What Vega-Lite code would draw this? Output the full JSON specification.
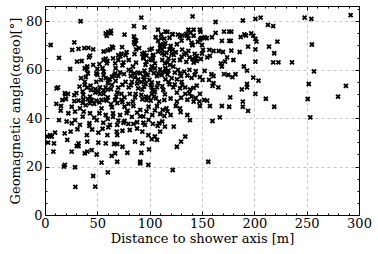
{
"$schema":"https://vega.github.io/schema/vega-lite/v6.json",
"width":314,"height":209,"autosize":"none",
"padding":{"left":45,"top":6,"right":19,"bottom":39},
"background":"white",
"config":{"view":{"stroke":"black","strokeWidth":1},"font":"DejaVu Serif",
 "axis":{"domainColor":"black","tickColor":"black","labelColor":"black","titleColor":"black","labelFontSize":13,"titleFontSize":13,"titleFontWeight":"normal","labelFlush":false,"labelOverlap":false,"labelBound":false,"gridDash":[3,3],"gridColor":"#c8c8c8","tickWidth":1}},
"data":{"values":[
{"d":34,"a":80},{"d":92,"a":81.5},{"d":141,"a":82},{"d":248,"a":81.5},{"d":254.5,"a":81},{"d":292,"a":82.5},{"d":206,"a":81.5},{"d":201,"a":81},{"d":189,"a":80.3},{"d":163,"a":79.7},
{"d":85,"a":78},{"d":95,"a":77.5},{"d":213,"a":78.5},{"d":218,"a":78},{"d":108,"a":76.5},{"d":117,"a":75.6},{"d":137,"a":76.5},{"d":148,"a":76.5},{"d":148.5,"a":75.6},{"d":142,"a":76.5},
{"d":171,"a":75.7},{"d":176,"a":75.7},{"d":178,"a":75.7},{"d":60.5,"a":75.5},{"d":58,"a":75},{"d":63,"a":76},{"d":59,"a":74},{"d":63,"a":75},{"d":76,"a":74.5},{"d":111,"a":74.6},
{"d":122,"a":74.6},{"d":135.5,"a":74},{"d":129,"a":73.7},{"d":152.5,"a":73.4},{"d":154.5,"a":73},{"d":149,"a":73},{"d":159.5,"a":73.4},{"d":190.5,"a":74.6},{"d":192,"a":74.1},{"d":187,"a":73.5},
{"d":197,"a":75},{"d":199,"a":74},{"d":222,"a":71.6},{"d":28,"a":71.3},{"d":85,"a":73.7},{"d":86,"a":72.3},{"d":85,"a":71.3},{"d":130.5,"a":72},{"d":108,"a":71.9},{"d":140,"a":71.2},
{"d":169,"a":71.9},{"d":176,"a":71.9},{"d":177.5,"a":71.9},{"d":201,"a":72.7},{"d":202,"a":71.6},{"d":255,"a":70.4},{"d":5.4,"a":70.2},{"d":32,"a":68.6},{"d":26,"a":68.2},{"d":37.6,"a":68.9},
{"d":41.4,"a":69},{"d":46,"a":68.4},{"d":62,"a":68.4},{"d":64,"a":69.5},{"d":73.6,"a":69.3},{"d":87,"a":68.4},{"d":102,"a":68.7},{"d":100,"a":68.2},{"d":112,"a":68.2},{"d":114,"a":69.5},
{"d":110,"a":70.2},{"d":112,"a":66.8},{"d":114,"a":66.1},{"d":115,"a":71},{"d":119,"a":68.4},{"d":122,"a":68.2},{"d":150,"a":70.2},{"d":151,"a":68.2},{"d":141,"a":70.2},{"d":157,"a":68.2},
{"d":161,"a":67.7},{"d":166,"a":67.7},{"d":170,"a":67.3},{"d":178,"a":67.9},{"d":186,"a":67.3},{"d":194,"a":69.5},{"d":214,"a":69.5},{"d":201,"a":68.4},{"d":219,"a":66.8},{"d":163,"a":75.2},
{"d":73,"a":66.6},{"d":78,"a":67.2},{"d":70,"a":66},{"d":85.5,"a":66.4},{"d":93,"a":66.5},{"d":97,"a":65.8},{"d":94,"a":64.7},{"d":103.5,"a":66.1},{"d":103,"a":64.7},{"d":123,"a":66.1},
{"d":130.5,"a":65.4},{"d":135,"a":66.8},{"d":138,"a":65.1},{"d":145,"a":65.7},{"d":155,"a":65.1},{"d":157.5,"a":65.7},{"d":13.4,"a":64.9},{"d":42,"a":65.1},{"d":43,"a":65.8},{"d":65,"a":64.7},
{"d":80,"a":64},{"d":102.5,"a":64},{"d":112,"a":64},{"d":129,"a":64},{"d":149,"a":64.4},{"d":144,"a":64.7},{"d":174,"a":65.1},{"d":180,"a":64},{"d":172,"a":63.3},{"d":30.6,"a":63.3},
{"d":35,"a":63.6},{"d":59.6,"a":63.6},{"d":59,"a":62.6},{"d":67,"a":62.6},{"d":87,"a":62.9},{"d":97,"a":63.3},{"d":105,"a":62.6},{"d":96,"a":62},{"d":114.6,"a":62.6},{"d":119.4,"a":62},
{"d":142,"a":62.9},{"d":168,"a":62.6},{"d":169,"a":61.3},{"d":218,"a":63},{"d":223,"a":63},{"d":236,"a":63},{"d":201,"a":63.3},{"d":190,"a":61.3},{"d":24,"a":60.3},{"d":38,"a":60.6},
{"d":50,"a":60.3},{"d":55,"a":60.6},{"d":56,"a":59.2},{"d":67.5,"a":60.6},{"d":84,"a":61.3},{"d":80,"a":59.9},{"d":102,"a":61.3},{"d":105,"a":60.6},{"d":115,"a":60.6},{"d":122.6,"a":61.3},
{"d":138,"a":59.9},{"d":152.5,"a":59.5},{"d":193,"a":59.6},{"d":257,"a":59.3},{"d":40,"a":59.9},{"d":41,"a":58.5},{"d":49,"a":58.5},{"d":67,"a":58.5},{"d":64,"a":57.1},{"d":75.5,"a":58.2},
{"d":71.7,"a":58.9},{"d":82,"a":57.4},{"d":85.4,"a":58.5},{"d":91,"a":58.5},{"d":96,"a":58.1},{"d":94,"a":57.1},{"d":108,"a":58.5},{"d":107,"a":57.4},{"d":115,"a":59.2},{"d":111.5,"a":57.8},
{"d":117,"a":58},{"d":124,"a":58.8},{"d":129,"a":58.5},{"d":133,"a":59.2},{"d":143,"a":57.8},{"d":161,"a":57.4},{"d":159,"a":58.1},{"d":171,"a":58.2},{"d":175,"a":57.8},{"d":182,"a":58.1},
{"d":199,"a":56.7},{"d":204,"a":55.5},{"d":34.4,"a":56.5},{"d":38,"a":55},{"d":49,"a":55},{"d":53.5,"a":55.8},{"d":58,"a":56.5},{"d":60.5,"a":55.8},{"d":67.5,"a":55.4},{"d":77,"a":55},
{"d":83,"a":55},{"d":89,"a":56},{"d":92,"a":55},{"d":95,"a":55.8},{"d":99.7,"a":55.8},{"d":102,"a":54.7},{"d":115,"a":56},{"d":118,"a":55},{"d":126,"a":56},{"d":130.5,"a":55},
{"d":148,"a":56.9},{"d":150.5,"a":55.8},{"d":156.7,"a":55.8},{"d":161,"a":54.4},{"d":179,"a":56.9},{"d":193,"a":54.1},{"d":252,"a":54.1},{"d":287.5,"a":53.3},{"d":12.4,"a":52.7},{"d":11,"a":52.3},
{"d":33,"a":53},{"d":40,"a":52.6},{"d":43.6,"a":53.4},{"d":52.5,"a":52.7},{"d":58,"a":52.7},{"d":64,"a":53.7},{"d":70,"a":52.6},{"d":80,"a":52.7},{"d":89,"a":52.3},{"d":94.6,"a":53},
{"d":102,"a":52.7},{"d":103,"a":51.6},{"d":107,"a":52.7},{"d":113,"a":51.6},{"d":122.6,"a":52.7},{"d":129,"a":52.3},{"d":134,"a":52.7},{"d":138.5,"a":51.9},{"d":160,"a":53.3},{"d":165.6,"a":52.7},
{"d":188,"a":51.9},{"d":193,"a":52.7},{"d":19.4,"a":49.8},{"d":22,"a":50},{"d":30,"a":50.3},{"d":36.6,"a":49.6},{"d":43,"a":48.9},{"d":48,"a":50.5},{"d":52.5,"a":50},{"d":56,"a":50},
{"d":60,"a":48.6},{"d":68,"a":48.9},{"d":73,"a":50},{"d":76,"a":48.6},{"d":81,"a":50},{"d":86.6,"a":50},{"d":92,"a":49.6},{"d":96.5,"a":48.9},{"d":102,"a":50},{"d":104,"a":48.9},
{"d":114.6,"a":49.8},{"d":126,"a":50.5},{"d":134,"a":50},{"d":140,"a":48.9},{"d":148,"a":50},{"d":177,"a":48.6},{"d":201,"a":50},{"d":280,"a":48.9},{"d":16.6,"a":47.5},{"d":20,"a":47.9},
{"d":32,"a":47.2},{"d":36.6,"a":47.8},{"d":44.6,"a":47.5},{"d":49,"a":47.2},{"d":54,"a":47.5},{"d":59,"a":47.2},{"d":67,"a":47.5},{"d":73,"a":47.5},{"d":84,"a":46.8},{"d":97,"a":47.5},
{"d":101,"a":47.2},{"d":109,"a":46.8},{"d":114,"a":47.5},{"d":126,"a":46.8},{"d":142,"a":46.8},{"d":147.5,"a":46.8},{"d":152,"a":47.5},{"d":155,"a":47.2},{"d":189,"a":46.8},{"d":251,"a":47.9},
{"d":211,"a":48},{"d":10.8,"a":45.9},{"d":15.3,"a":45},{"d":25.5,"a":44.7},{"d":33.4,"a":44},{"d":39,"a":45.4},{"d":43,"a":46.1},{"d":47,"a":45.9},{"d":54,"a":44},{"d":64,"a":44.5},
{"d":76,"a":44.7},{"d":79.6,"a":45.9},{"d":84.4,"a":45},{"d":91,"a":43.4},{"d":99,"a":44.7},{"d":107,"a":45},{"d":112.4,"a":43.4},{"d":116,"a":44},{"d":125,"a":45},{"d":129,"a":44},
{"d":148,"a":45},{"d":157.6,"a":45},{"d":169,"a":45},{"d":176,"a":44.7},{"d":189,"a":44.7},{"d":219,"a":44.7},{"d":15,"a":43.1},{"d":22.3,"a":42},{"d":28.7,"a":42.7},{"d":37,"a":42.7},
{"d":43,"a":42},{"d":52,"a":42},{"d":58,"a":41.3},{"d":65,"a":42},{"d":71.7,"a":41.3},{"d":79,"a":43.1},{"d":88,"a":42.3},{"d":91,"a":40.7},{"d":94,"a":40.7},{"d":102.5,"a":41.3},
{"d":110,"a":41.7},{"d":114,"a":40.9},{"d":120,"a":41.3},{"d":129.6,"a":42.5},{"d":136,"a":41.3},{"d":167,"a":40.3},{"d":194,"a":43},{"d":138.5,"a":39.2},{"d":160,"a":38.8},{"d":253.5,"a":40.3},
{"d":13.4,"a":39.2},{"d":20.7,"a":38.6},{"d":28.7,"a":39.2},{"d":25.5,"a":37.9},{"d":33.4,"a":37.2},{"d":42.4,"a":37.9},{"d":42.4,"a":36.8},{"d":49.4,"a":39.2},{"d":55.7,"a":38.1},{"d":62,"a":37.2},
{"d":60.5,"a":36.2},{"d":69,"a":37.2},{"d":75,"a":38.1},{"d":79.6,"a":37.6},{"d":84.4,"a":37.6},{"d":94,"a":38.1},{"d":95.5,"a":37.2},{"d":103,"a":37.6},{"d":107.6,"a":36.8},{"d":109,"a":37.9},
{"d":114.6,"a":36.5},{"d":123,"a":36.5},{"d":4.8,"a":33},{"d":2.2,"a":32.4},{"d":6.4,"a":32.4},{"d":9.6,"a":34},{"d":18.8,"a":33.7},{"d":24.5,"a":34.4},{"d":31,"a":35.4},{"d":40,"a":33},
{"d":51,"a":34},{"d":59.6,"a":33},{"d":68.5,"a":34.4},{"d":69,"a":33},{"d":81,"a":35.1},{"d":93,"a":34.4},{"d":98.7,"a":33},{"d":110,"a":34.4},{"d":105,"a":32.4},{"d":134,"a":32.4},
{"d":130,"a":30.3},{"d":126,"a":28.2},{"d":2.9,"a":29.9},{"d":8.6,"a":29.6},{"d":21.3,"a":31},{"d":32,"a":29.6},{"d":40.4,"a":30.3},{"d":51,"a":29.9},{"d":58,"a":29.6},{"d":66,"a":29.3},
{"d":69,"a":29.3},{"d":74,"a":28.2},{"d":86,"a":30.3},{"d":93,"a":29.6},{"d":102,"a":31.3},{"d":107,"a":31},{"d":32,"a":28.5},{"d":30.3,"a":28.5},{"d":40.4,"a":26.2},{"d":38,"a":25.5},
{"d":44.6,"a":26.8},{"d":25.5,"a":26.2},{"d":8,"a":26.2},{"d":49.4,"a":25},{"d":63.7,"a":24.4},{"d":67,"a":25.5},{"d":78.7,"a":25.7},{"d":92,"a":25.7},{"d":99.4,"a":27.1},{"d":69,"a":22},
{"d":54,"a":21.6},{"d":91,"a":22},{"d":91,"a":21.3},{"d":98.7,"a":20.7},{"d":156,"a":22},{"d":122,"a":18.6},{"d":18,"a":20},{"d":19,"a":20.7},{"d":28.7,"a":19.7},{"d":60,"a":17.6},
{"d":46,"a":16.1},{"d":29,"a":11.6},{"d":48,"a":11.7},
{"d":56,"a":67.5},{"d":60,"a":68},{"d":65,"a":69},{"d":70,"a":64},{"d":72,"a":65.5},{"d":75,"a":63},{"d":74,"a":61.8},{"d":77,"a":66},{"d":40.4,"a":61.3},{"d":46,"a":62},
{"d":52,"a":62.3},{"d":56,"a":64},{"d":58,"a":64.5},{"d":39,"a":57},{"d":50,"a":57.9},{"d":56,"a":57.8},{"d":60,"a":54.5},{"d":62,"a":56},
{"d":66,"a":57.6},{"d":70,"a":57.4},{"d":19,"a":50.3},{"d":28,"a":49.5},{"d":36,"a":51},
{"d":38,"a":53.7},{"d":44,"a":51.6},{"d":48,"a":52},{"d":51,"a":51},{"d":56,"a":51.4},{"d":60,"a":51.8},
{"d":63,"a":52},{"d":69,"a":50.6},{"d":74,"a":53.8},{"d":28,"a":47},{"d":36,"a":46.2},
{"d":41,"a":47.8},{"d":52,"a":46.5},{"d":58,"a":47.7},{"d":63,"a":45.8},{"d":69,"a":46.2},
{"d":74,"a":46.6},{"d":115,"a":75.7},{"d":121.6,"a":74.7},{"d":127,"a":74.5},{"d":131,"a":74.2},{"d":135,"a":74.8},{"d":137,"a":73},{"d":139,"a":75.2},{"d":142,"a":74},
{"d":146,"a":71.5},{"d":148,"a":72.3},{"d":150,"a":73.1},{"d":105.7,"a":73.4},{"d":111,"a":73},{"d":114,"a":72.8},{"d":119,"a":73.2},{"d":86,"a":70.5},{"d":87,"a":72},{"d":90,"a":68.9},
{"d":94,"a":65.3},{"d":95,"a":67},{"d":101,"a":64.2},{"d":103,"a":65.8},{"d":108,"a":67.5},{"d":110,"a":69},{"d":113,"a":70.5},{"d":116,"a":67},{"d":118,"a":64.7},
{"d":120,"a":69.8},{"d":121,"a":66.5},{"d":123,"a":63.8},{"d":125,"a":67.2},{"d":117,"a":63},{"d":126,"a":70.5},{"d":131,"a":68.3},{"d":133,"a":66.2},{"d":135,"a":63.2},
{"d":137,"a":67.8},{"d":141,"a":64.4},{"d":143,"a":66.5},{"d":145,"a":63.6},{"d":150,"a":66.7},{"d":140.7,"a":70.2},{"d":82,"a":59.3},{"d":86,"a":56.8},
{"d":89,"a":58.8},{"d":95,"a":59.6},{"d":98,"a":57.8},{"d":101,"a":59.8},{"d":104,"a":58.6},{"d":110,"a":60.1},{"d":112,"a":58.9},
{"d":118,"a":59.6},{"d":121,"a":56.5},{"d":127,"a":59.9},{"d":130,"a":57.4},{"d":136,"a":57.6},{"d":140,"a":56.6},{"d":144,"a":59.4},{"d":82,"a":53.5},
{"d":88,"a":54.3},{"d":93,"a":51.8},{"d":96,"a":54.1},{"d":101,"a":53.6},{"d":105,"a":50.8},{"d":108,"a":54.4},
{"d":112,"a":53.2},{"d":119,"a":54},{"d":124,"a":53.9},{"d":131,"a":53.6},{"d":138,"a":50.3},{"d":142,"a":52.5},
{"d":145,"a":53.4},{"d":86,"a":48.6},{"d":93,"a":47.8},{"d":99,"a":48.4},{"d":106,"a":48.2},
{"d":120,"a":48.1},{"d":130,"a":48.4},{"d":136,"a":47.6},{"d":144,"a":48.3},{"d":78,"a":42.1},{"d":83,"a":40.5},
{"d":97,"a":42.8},{"d":105,"a":43.2},{"d":117,"a":42.8},{"d":60,"a":39.7},{"d":65,"a":40.5},{"d":70,"a":39},
{"d":76,"a":38.8},{"d":47,"a":40.2},{"d":36,"a":40.6},{"d":88,"a":38.3},{"d":99,"a":39.3},{"d":112,"a":38.6},
{"d":45,"a":35.3},{"d":55,"a":35.6},{"d":74,"a":34.8},{"d":88,"a":35.7}
]},
"layer":[
{"mark":{"type":"point","shape":"M-1,-1L1,1M-1,1L1,-1","filled":false,"stroke":"black","strokeWidth":1.9,"size":16,"opacity":1},
 "encoding":{
  "x":{"field":"d","type":"quantitative","scale":{"domain":[0,300],"nice":false,"zero":false},
   "axis":{"orient":"bottom","title":"Distance to shower axis [m]","values":[0,10,20,30,40,50,60,70,80,90,100,110,120,130,140,150,160,170,180,190,200,210,220,230,240,250,260,270,280,290,300],
    "labelExpr":"datum.value % 50 === 0 ? datum.label : ''","tickSize":{"condition":{"test":"datum.value % 50 === 0","value":-4},"value":-2},
    "grid":true,"gridOpacity":{"condition":{"test":"datum.value % 50 === 0","value":1},"value":0},"labelPadding":6,"titlePadding":0}},
  "y":{"field":"a","type":"quantitative","scale":{"domain":[0,86.3],"nice":false,"zero":false},
   "axis":{"orient":"left","title":"Geomagnetic angle(αgeo)[°]","values":[0,5,10,15,20,25,30,35,40,45,50,55,60,65,70,75,80,85],
    "labelExpr":"datum.value % 20 === 0 ? datum.label : ''","tickSize":{"condition":{"test":"datum.value % 20 === 0","value":-4},"value":-2},
    "grid":true,"gridOpacity":{"condition":{"test":"datum.value % 20 === 0","value":1},"value":0},"labelPadding":7,"titlePadding":3}}
 }},
{"mark":{"type":"point","shape":"M-1,-1L1,1M-1,1L1,-1","filled":false,"stroke":"black","strokeWidth":1.6,"size":16,"opacity":0},
 "encoding":{
  "x":{"field":"d","type":"quantitative","scale":{"domain":[0,300],"nice":false,"zero":false},
   "axis":{"orient":"top","title":null,"labels":false,"grid":false,"values":[0,10,20,30,40,50,60,70,80,90,100,110,120,130,140,150,160,170,180,190,200,210,220,230,240,250,260,270,280,290,300],
    "tickSize":{"condition":{"test":"datum.value % 50 === 0","value":-4},"value":-2}}},
  "y":{"field":"a","type":"quantitative","scale":{"domain":[0,86.3],"nice":false,"zero":false},
   "axis":{"orient":"right","title":null,"labels":false,"grid":false,"values":[0,5,10,15,20,25,30,35,40,45,50,55,60,65,70,75,80,85],
    "tickSize":{"condition":{"test":"datum.value % 20 === 0","value":-4},"value":-2}}}
 }}
]
}
